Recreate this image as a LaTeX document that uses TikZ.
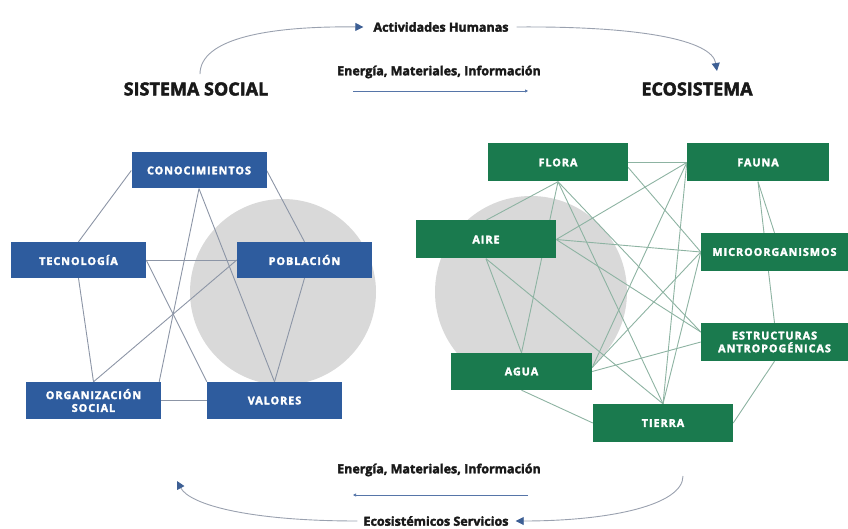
\documentclass[tikz,border=0pt]{standalone}
\usepackage{fontspec}
\setmainfont{Open Sans}[BoldFeatures={FakeBold=2.5}]
\newfontfamily\boxfont{Open Sans}[LetterSpace=9, BoldFeatures={FakeBold=2.5}]
\usetikzlibrary{calc,arrows.meta}
\definecolor{boxblue}{HTML}{2E5C9E}
\definecolor{boxgreen}{HTML}{1A7A4E}
\definecolor{circgray}{HTML}{D9D9D9}
\definecolor{edgeblue}{HTML}{8C95A6}
\definecolor{edgegreen}{HTML}{8DB3A2}
\definecolor{arrline}{HTML}{9AA1AF}
\definecolor{arrhead}{HTML}{3D5F94}
\definecolor{shortarr}{HTML}{5675A8}
\pgfdeclarelayer{circ}
\pgfdeclarelayer{edges}
\pgfsetlayers{circ,edges,main}
\tikzset{
  bbox/.style={fill=boxblue, text=white, font=\boxfont\bfseries\fontsize{10.8}{12.8}\selectfont,
    minimum width=135pt, minimum height=36pt, inner sep=0pt, align=center},
  gbox/.style={fill=boxgreen, text=white, font=\boxfont\bfseries\fontsize{10.8}{12.8}\selectfont,
    minimum width=140pt, minimum height=38pt, inner sep=0pt, align=center},
  sedge/.style={draw=edgeblue, line width=0.9pt},
  gedge/.style={draw=edgegreen, line width=0.9pt},
  ttl/.style={font=\bfseries\fontsize{18}{20}\selectfont, text=black!90, inner sep=0pt},
  lbl/.style={font=\bfseries\fontsize{12.5}{14}\selectfont, text=black!90, inner sep=0pt},
  flow/.style={draw=arrline, line width=0.9pt, -{Triangle[length=8pt,width=8pt,color=arrhead]}},
  sflow/.style={draw=shortarr, line width=0.7pt, -{Triangle[length=3pt,width=3pt]}}
}
\begin{document}
\begin{tikzpicture}[x=1pt,y=-1pt]
\useasboundingbox (0,0) rectangle (848,529);
\begin{pgfonlayer}{circ}
\fill[circgray] (283,292) circle [radius=93];
\fill[circgray] (531,292) circle [radius=96];
\end{pgfonlayer}

% social system
\node[bbox] (con) at (199,170.5) {CONOCIMIENTOS};
\node[bbox] (tec) at (78.5,260) {TECNOLOGÍA};
\node[bbox] (pob) at (304.5,260) {POBLACIÓN};
\node[bbox, minimum height=37pt] (org) at (93.5,400.5) {ORGANIZACIÓN\\SOCIAL};
\node[bbox, minimum height=37pt] (val) at (274.5,400.5) {VALORES};

% ecosystem
\node[gbox] (flora) at (558,162.5) {FLORA};
\node[gbox, minimum width=142pt] (fauna) at (758,162.5) {FAUNA};
\node[gbox] (aire) at (486,239.5) {AIRE};
\node[gbox, minimum width=147pt] (micro) at (774.5,252) {MICROORGANISMOS};
\node[gbox, minimum width=147pt] (estruc) at (774.5,342) {ESTRUCTURAS\\ANTROPOGÉNICAS};
\node[gbox, minimum width=141pt, minimum height=37pt] (agua) at (521.5,371.5) {AGUA};
\node[gbox] (tierra) at (663,423) {TIERRA};

\begin{pgfonlayer}{edges}
\draw[sedge] (con.west) -- (tec.north);
\draw[sedge] (con.south) -- (val.north);
\draw[sedge] (con.south) -- ($(org.north east)+(-2,0)$);
\draw[sedge] (con.east) -- (pob.north);
\draw[sedge] (tec.east) -- (pob.west);
\draw[sedge] (tec.east) -- (val.north west);
\draw[sedge] (tec.south) -- (org.north);
\draw[sedge] (pob.west) -- (org.north);
\draw[sedge] (pob.south) -- (val.north);
\draw[sedge] (org.east) -- (val.west);

\draw[gedge] (flora.east) -- (fauna.west);
\draw[gedge] (flora.south) -- (aire.north);
\draw[gedge] (flora.south) -- (agua.north);
\draw[gedge] (flora.south) -- (tierra.north);
\draw[gedge] (flora.south) -- ($(estruc.west)+(0,-10)$);
\draw[gedge] ($(flora.east)+(0,5)$) -- (micro.west);
\draw[gedge] (fauna.west) -- (aire.east);
\draw[gedge] (fauna.west) -- ($(agua.east)+(0,-4)$);
\draw[gedge] (fauna.west) -- (tierra.north);
\draw[gedge] (fauna.south) -- (micro.north);
\draw[gedge] (fauna.south) -- (estruc.north);
\draw[gedge] (aire.east) -- (micro.west);
\draw[gedge] (aire.east) -- ($(estruc.west)+(0,-10)$);
\draw[gedge] (aire.south) -- (agua.north);
\draw[gedge] (aire.south) -- (tierra.north);
\draw[gedge] (micro.west) -- ($(agua.east)+(0,-4)$);
\draw[gedge] (micro.west) -- (tierra.north);
\draw[gedge] (estruc.west) -- (agua.east);
\draw[gedge] (estruc.south) -- (tierra.east);
\draw[gedge] (agua.south) -- (tierra.west);
\end{pgfonlayer}

% titles and flows
\node[ttl] (ss) at (196,89) {SISTEMA SOCIAL};
\node[ttl] (eco) at (697,89) {ECOSISTEMA};
\node[lbl] (act) at (441,27) {Actividades Humanas};
\node[lbl] (emt) at (439,72) {Energía, Materiales, Información};
\node[lbl] (emb) at (439,470) {Energía, Materiales, Información};
\node[lbl] (ser) at (436,521) {Ecosistémicos Servicios};

\coordinate (t1) at (353,91);
\coordinate (t2) at (528,91);
\coordinate (b1) at (528,495);
\coordinate (b2) at (353,495);
\coordinate (ecoin) at (717,71);
\coordinate (retstart) at (683,476);
\coordinate (retend) at (177,481);

\draw[sflow] (t1) -- (t2);
\draw[sflow] (b1) -- (b2);

\draw[flow] ($(ss.north)+(4,-8)$) .. controls (200,38) and (270,26) .. ($(act.west)+(-10,0)$);
\draw[flow] ($(act.east)+(8,0)$) .. controls (640,26) and (712,40) .. (ecoin);
\draw[flow] (retstart) .. controls (683,505) and (610,521) .. ($(ser.east)+(7,0)$);
\draw[flow] ($(ser.west)+(-6,0)$) .. controls (250,521) and (190,505) .. (retend);
\end{tikzpicture}
\end{document}
